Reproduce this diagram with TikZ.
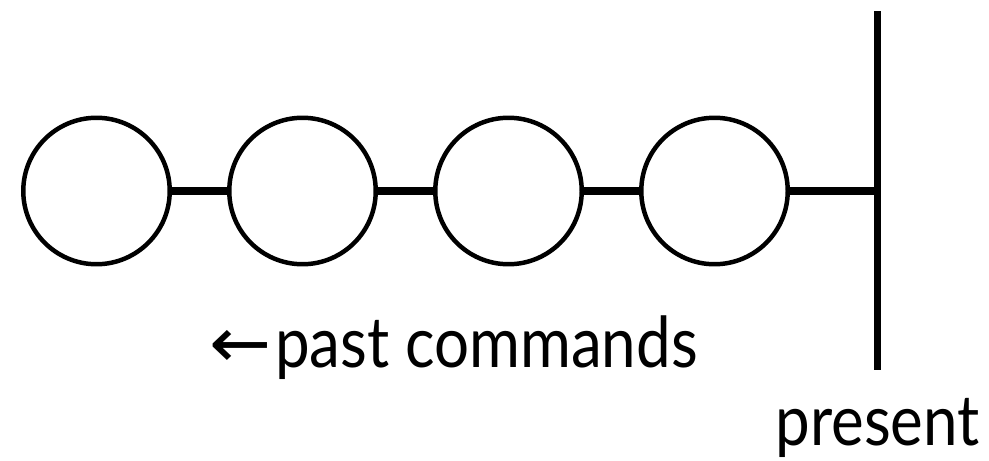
\documentclass[tikz,border=0pt]{standalone}
\usepackage{fontspec}
\setmainfont{Lato}
\newfontfamily\arrowfont{DejaVu Sans}
\usetikzlibrary{positioning}

\begin{document}
\begin{tikzpicture}[x=0.02cm, y=-0.02cm,
  cmd/.style={circle, draw, line width=2.55pt, minimum size=2.93cm, inner sep=0pt},
  link/.style={line width=4pt},
  bar/.style={line width=4pt},
  lbl/.style={font=\fontsize{40}{48}\selectfont, inner sep=0pt, xscale=0.88}
]
  \useasboundingbox (0,0) rectangle (989,460);
  % past commands
  \node[cmd] (c1) at (96.5,191) {};
  \node[cmd] (c2) at (302.5,191) {};
  \node[cmd] (c3) at (508.5,191) {};
  \node[cmd] (c4) at (714.5,191) {};
  % the present
  \coordinate (top) at (877,11);
  \coordinate (bot) at (877,370);
  \coordinate (now) at (877,191);
  \draw[bar] (top) -- (bot);
  \draw[link] (c1) -- (c2);
  \draw[link] (c2) -- (c3);
  \draw[link] (c3) -- (c4);
  \draw[link] (c4) -- (now);
  \node[lbl, anchor=base east] (past) at (698,367)
    {\scalebox{1.2}[1]{\arrowfont ←}\kern2pt past commands};
  \node[lbl, anchor=base east] (pres) at (980,445) {present};
\end{tikzpicture}
\end{document}
